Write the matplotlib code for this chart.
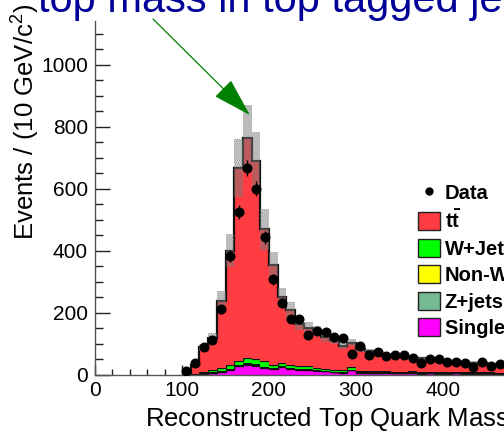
import numpy as np
import matplotlib.pyplot as plt
from matplotlib.lines import Line2D
from matplotlib.patches import Patch

plt.rcParams['font.family'] = ['Liberation Sans', 'DejaVu Sans']
plt.rcParams['mathtext.fontset'] = 'custom'
plt.rcParams['mathtext.rm'] = 'Liberation Sans'
plt.rcParams['mathtext.bf'] = 'Liberation Sans:bold'
plt.rcParams['hatch.linewidth'] = 1.1

#---binned top mass, 10 GeV bins from 100 to 500-----------------------------
edges = np.arange(100, 510, 10)

data = [11, 36, 88, 112, 210, 383, 525, 667, 600, 442,
        307, 231, 178, 180, 127, 140, 137, 122, 117, 66,
        91, 63, 74, 60, 63, 63, 52, 38, 49, 49,
        41, 39, 36, 25, 41, 27, 34, 30, 28, 25]

ttbar = [1, 27, 80, 105, 214, 368, 621, 710, 639, 426,
         323, 213, 178, 136, 123, 120, 102, 95, 78, 79,
         70, 64, 60, 51, 49, 47, 43, 44, 40, 38,
         36, 33, 32, 31, 28, 27, 27, 25, 24, 23]

wjets = [0, 1, 3, 6, 11, 12, 13, 17, 17, 17,
         9, 10, 9, 7, 10, 8, 6, 6, 6, 9,
         4, 4, 3, 3, 3, 3, 3, 3, 3, 3,
         3, 3, 3, 3, 3, 3, 2, 3, 3, 2]

nonw = [0, 1, 1, 1, 2, 2, 3, 3, 3, 2,
        2, 2, 2, 2, 2, 1, 1, 1, 1, 1,
        1, 1, 1, 1, 1, 1, 1, 1, 1, 1,
        1, 1, 1, 1, 1, 1, 1, 0, 0, 0]

zjets = [0, 0, 1, 1, 1, 1, 2, 2, 2, 2,
         1, 2, 1, 1, 1, 1, 1, 1, 1, 1,
         1, 1, 1, 1, 1, 1, 1, 1, 1, 1,
         1, 1, 1, 1, 1, 1, 1, 1, 1, 1]

single_top = [0, 1, 3, 5, 8, 16, 26, 32, 28, 21,
              18, 24, 19, 16, 15, 12, 10, 7, 6, 13,
              6, 5, 5, 6, 4, 4, 5, 3, 4, 3,
              3, 4, 3, 2, 3, 2, 2, 2, 2, 2]

# systematic band half width on the total prediction
mc_err = [0.3, 4, 12, 17, 32, 53, 94, 105, 94, 65,
          43, 27, 26, 18, 17, 16, 14, 12, 10, 12,
          9, 8, 7, 7, 6, 6, 6, 6, 5, 5,
          5, 5, 5, 4, 4, 4, 4, 4, 4, 4]

# stack order bottom -> top
stack = [single_top, zjets, nonw, wjets, ttbar]
colors = ['#ff00ff', '#74b894', '#ffff00', '#00ff00', '#ff3c41']
labels = ['Single top', 'Z+jets', 'Non-W', 'W+Jets', r'$\mathbf{t\bar{t}}$']

fig = plt.figure(figsize=(5.04, 4.32), dpi=100)
W, H = 504.0, 432.0
# axis runs 0..500 GeV, its right end lies past the figure edge
ax = fig.add_axes([95 / W, 57.5 / H, 435 / W, 353.4 / H])

cum = np.cumsum(np.array(stack, dtype=float), axis=0)
base = np.zeros(len(data))
for i, (top, col) in enumerate(zip(cum, colors)):
    lw = 1.6 if i == len(stack) - 1 else 0.9
    ax.stairs(top, edges, baseline=base, fill=True, facecolor=col,
              edgecolor='none', zorder=2 + i * 0.1)
    ax.stairs(top, edges, baseline=None, color='#111111', lw=lw,
              zorder=2.05 + i * 0.1)
    base = top

total = cum[-1]
err = np.array(mc_err)
ax.stairs(total + err, edges, baseline=total - err, fill=True,
          facecolor='none', edgecolor='#7a7a7a', hatch='........',
          linewidth=0, zorder=3)

centers = edges[:-1] + 5
ax.errorbar(centers, data, yerr=np.sqrt(data), fmt='o', color='black',
            markersize=6.2, elinewidth=1, capsize=0, zorder=5)

ax.set_xlim(0, 500)
ax.set_ylim(0, 1140)
ax.set_xticks(np.arange(0, 501, 100))
ax.set_xticks(np.arange(0, 501, 20), minor=True)
ax.set_yticks(np.arange(0, 1001, 200))
ax.set_yticks(np.arange(0, 1101, 50), minor=True)
ax.tick_params(axis='both', which='both', direction='in', labelsize=15,
               color='#222222', width=1)
ax.tick_params(axis='y', which='major', length=11, pad=5)
ax.tick_params(axis='y', which='minor', length=5.5)
ax.tick_params(axis='x', which='major', length=7.5, pad=5)
ax.tick_params(axis='x', which='minor', length=4.5)
for side in ['top', 'right']:
    ax.spines[side].set_visible(False)
for side in ['left', 'bottom']:
    ax.spines[side].set_color('#555555')
    ax.spines[side].set_linewidth(1)

fig.text(145 / W, 5.3 / H, 'Reconstructed Top Quark Mass (GeV/c$^{2}$)',
         fontsize=18.5, ha='left', va='baseline')
fig.text(25 / W, 1 - 240 / H, 'Events / (10 GeV/c$^{2}$)', fontsize=18.5,
         rotation=90, ha='center', va='bottom')

fig.text(38 / W, 1 - 12 / H, 'top mass in top tagged jets', fontsize=30,
         color='#000099', ha='left', va='baseline')

ax.annotate('', xy=(178, 837), xytext=(153 / W, 1 - 19 / H),
            textcoords='figure fraction', annotation_clip=False,
            arrowprops=dict(arrowstyle='-|>,head_length=1.25,head_width=0.37',
                            mutation_scale=20, color='#008000', lw=0.9,
                            shrinkA=0, shrinkB=0), zorder=10)

handles = [Line2D([], [], marker='o', color='black', ls='none', markersize=5)]
names = ['Data']
for col, lab in reversed(list(zip(colors, labels))):
    handles.append(Patch(facecolor=col, edgecolor='#222222', linewidth=1))
    names.append(lab)
fig.legend(handles, names, loc='upper left',
           bbox_to_anchor=(418 / W, 1 - 183 / H), frameon=False,
           borderpad=0, borderaxespad=0, handlelength=1.1,
           handleheight=1.0, labelspacing=0.33, handletextpad=0.22,
           prop={'weight': 'bold', 'size': 14.5})

fig.savefig('out.png', dpi=100)
